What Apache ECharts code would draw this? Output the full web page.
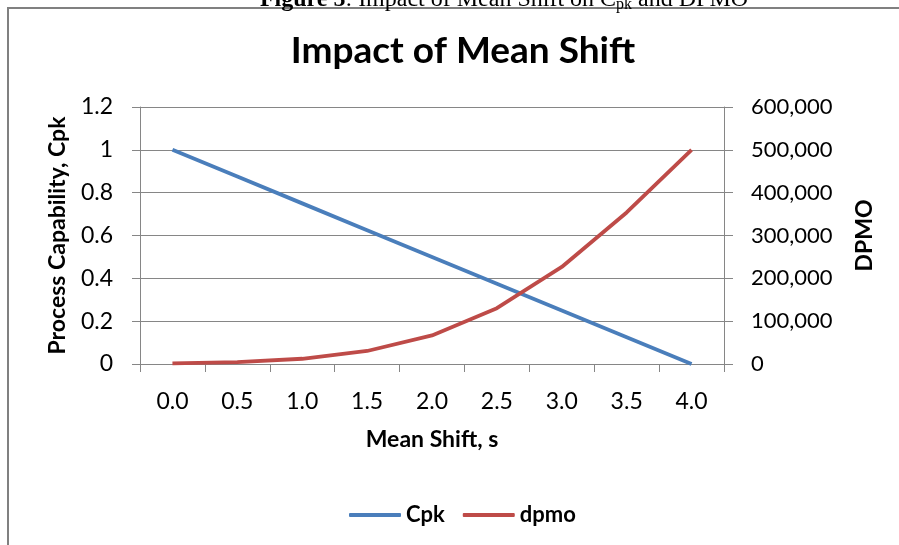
<!DOCTYPE html>
<html>
<head>
<meta charset="utf-8">
<script src="https://cdn.jsdelivr.net/npm/echarts@6/dist/echarts.min.js"></script>
<style>
  html, body { margin: 0; padding: 0; background: #fff; }
  #chart { width: 899px; height: 545px; }
</style>
</head>
<body>
<div id="chart"></div>
<script>
// mean shift categories
const shifts = ['0.0', '0.5', '1.0', '1.5', '2.0', '2.5', '3.0', '3.5', '4.0']
// process capability
const cpk = [1, 0.875, 0.75, 0.625, 0.5, 0.375, 0.25, 0.125, 0]
// defects per million opportunities
const dpmo = [1350, 4330, 12220, 30400, 66800, 130300, 226600, 353800, 500000]

const font = 'Lato, "Open Sans", sans-serif'
const gray = '#868686'

const chart = echarts.init(document.getElementById('chart'))

chart.setOption({
  animation: false,
  backgroundColor: '#fff',
  graphic: [
    {
      type: 'rect',
      shape: { x: 8, y: 8, width: 1000, height: 700 },
      style: { fill: 'none', stroke: '#808080', lineWidth: 2 },
      silent: true
    },
    {
      type: 'text',
      x: 504,
      y: -13,
      style: {
        text: '{b|Figure 5}: Impact of Mean Shift on C{s|pk} and DPMO',
        rich: {
          b: { fontWeight: 'bold', fontFamily: '"Liberation Serif", serif', fontSize: 24 },
          s: { fontFamily: '"Liberation Serif", serif', fontSize: 16, padding: [10, 0, 0, 0] }
        },
        font: '24px "Liberation Serif", serif',
        fill: '#000',
        align: 'center'
      }
    }
  ],
  title: {
    text: 'Impact of Mean Shift',
    left: 458,
    top: 28,
    textAlign: 'center',
    textStyle: { fontFamily: font, fontWeight: 'bold', fontSize: 37, color: '#000' }
  },
  legend: {
    left: 344,
    top: 499,
    itemWidth: 52,
    itemHeight: 4,
    itemGap: 18,
    textStyle: { fontFamily: font, fontWeight: 'bold', fontSize: 22, color: '#000' },
    data: [
      { name: 'Cpk', icon: 'roundRect' },
      { name: 'dpmo', icon: 'roundRect' }
    ]
  },
  grid: { left: 140, right: 175, top: 107, bottom: 181 },
  xAxis: {
    type: 'category',
    data: shifts,
    name: 'Mean Shift, s',
    nameLocation: 'middle',
    nameGap: 64,
    nameTextStyle: { fontFamily: font, fontWeight: 'bold', fontSize: 23, color: '#000' },
    axisLine: { lineStyle: { color: gray, width: 1 } },
    axisTick: { show: true, length: 8, lineStyle: { color: gray } },
    axisLabel: { margin: 26, fontFamily: font, fontSize: 23, color: '#000' }
  },
  yAxis: [
    {
      type: 'value',
      min: 0,
      max: 1.2,
      interval: 0.2,
      name: 'Process Capability, Cpk',
      nameLocation: 'middle',
      nameGap: 71,
      nameTextStyle: { fontFamily: font, fontWeight: 'bold', fontSize: 23, color: '#000' },
      axisLine: { show: true, lineStyle: { color: gray } },
      axisTick: { show: true, length: 8, lineStyle: { color: gray } },
      splitLine: { lineStyle: { color: gray } },
      axisLabel: { margin: 27, fontFamily: font, fontSize: 23, color: '#000' }
    },
    {
      type: 'value',
      min: 0,
      max: 600000,
      interval: 100000,
      name: 'DPMO',
      nameLocation: 'middle',
      nameRotate: 90,
      nameGap: 129,
      nameTextStyle: { fontFamily: font, fontWeight: 'bold', fontSize: 23, color: '#000' },
      axisLine: { show: true, lineStyle: { color: gray } },
      axisTick: { show: true, length: 9, lineStyle: { color: gray } },
      splitLine: { show: false },
      axisLabel: {
        margin: 27,
        fontFamily: font,
        fontSize: 22,
        color: '#000',
        formatter: v => v.toLocaleString('en-US')
      }
    }
  ],
  series: [
    {
      name: 'Cpk',
      type: 'line',
      data: cpk,
      yAxisIndex: 0,
      symbol: 'none',
      lineStyle: { color: '#4A7EBB', width: 3.8 },
      itemStyle: { color: '#4A7EBB' }
    },
    {
      name: 'dpmo',
      type: 'line',
      data: dpmo,
      yAxisIndex: 1,
      symbol: 'none',
      lineStyle: { color: '#BE4B48', width: 3.8 },
      itemStyle: { color: '#BE4B48' }
    }
  ]
})
</script>
</body>
</html>
